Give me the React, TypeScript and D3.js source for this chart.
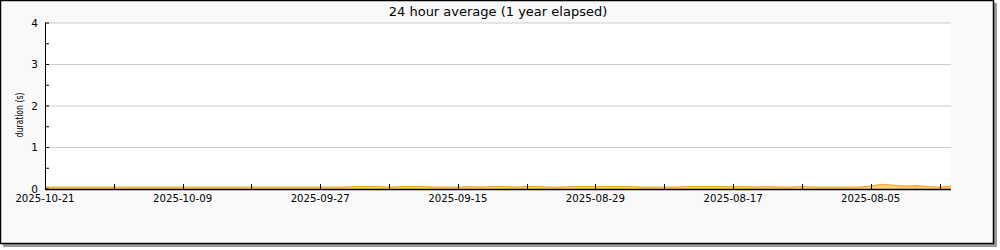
import React from "react";
import * as d3 from "d3";

const title = "24 hour average (1 year elapsed)";
const yTitle = "duration (s)";
const yTicks = [0, 1, 2, 3, 4];
const yMinorTicks = [0.5, 1.5, 2.5, 3.5];
const xTickIdx = [0, 6, 12, 18, 24, 30, 36, 42, 48, 54, 60, 66, 72, 78];
const xLabelIdx = [0, 12, 24, 36, 48, 60, 72];
const xLabels = ["2025-10-21", "2025-10-09", "2025-09-27", "2025-09-15", "2025-08-29", "2025-08-17", "2025-08-05"];
// daily averages, index 0 = most recent day (left)
const values = [
  0.045, 0.045, 0.045, 0.045, 0.045, 0.045, 0.045, 0.045, 0.045, 0.045,
  0.045, 0.045, 0.045, 0.045, 0.045, 0.045, 0.045, 0.045, 0.045, 0.045,
  0.045, 0.045, 0.045, 0.045, 0.045, 0.045, 0.045, 0.06, 0.06, 0.06,
  0.045, 0.06, 0.06, 0.06, 0.045, 0.045, 0.045, 0.06, 0.045, 0.06,
  0.06, 0.045, 0.06, 0.06, 0.045, 0.045, 0.06, 0.06, 0.06, 0.06,
  0.06, 0.06, 0.045, 0.045, 0.045, 0.045, 0.06, 0.06, 0.06, 0.06,
  0.05, 0.06, 0.045, 0.06, 0.045, 0.045, 0.06, 0.045, 0.045, 0.045,
  0.045, 0.045, 0.07, 0.11, 0.09, 0.07, 0.08, 0.06, 0.045, 0.07,
];

export default function App() {
  const W = 1000, H = 250;
  const L = 45, R = 951, T = 23, B = 189;
  const x = d3.scaleLinear().domain([0, values.length - 1]).range([L, R]);
  const y = d3.scaleLinear().domain([0, 4]).range([B, T]);
  const area = d3.area<number>().x((_, i) => x(i)).y0(y(0)).y1((d) => y(d));
  const line = d3.line<number>().x((_, i) => x(i)).y((d) => y(d));
  const font = "DejaVu Sans, sans-serif";
  return (
    <svg width={W} height={H} style={{ position: "absolute", left: 0, top: 0 }} fontFamily={font}>
      <rect x={3} y={3} width={994} height={244} fill="#999" />
      <rect x={0.5} y={0.5} width={993} height={243} fill="#f9f9f9" stroke="#000" strokeWidth={1.5} />
      <rect x={L} y={T} width={R - L} height={B - T} fill="#fff" />
      {yTicks.filter((t) => t > 0).map((t) => (
        <line key={"g" + t} x1={L} x2={R} y1={y(t)} y2={y(t)} stroke="#ccc" strokeWidth={1} />
      ))}
      <path d={area(values) || ""} fill="#ffd27a" />
      <path d={line(values) || ""} fill="none" stroke="#f5a623" strokeWidth={1.2} />
      {yTicks.map((t) => (
        <line key={"yt" + t} x1={L} x2={L + 4} y1={y(t)} y2={y(t)} stroke="#000" />
      ))}
      {yMinorTicks.map((t) => (
        <line key={"ym" + t} x1={L} x2={L + 4} y1={y(t)} y2={y(t)} stroke="#000" />
      ))}
      {xTickIdx.map((i) => (
        <line key={"xt" + i} x1={Math.round(x(i)) + 0.5} x2={Math.round(x(i)) + 0.5} y1={B} y2={B - 5} stroke="#000" />
      ))}
      <line x1={L + 0.5} x2={L + 0.5} y1={T} y2={B} stroke="#000" />
      <line x1={L} x2={R} y1={B + 0.5} y2={B + 0.5} stroke="#000" strokeWidth={1.5} />
      {yTicks.map((t) => (
        <text key={"yl" + t} x={38} y={y(t)} dy="0.36em" textAnchor="end" fontSize={10.5} fill="#000">{t}</text>
      ))}
      {xLabelIdx.map((i, k) => (
        <text key={"xl" + i} x={x(i)} y={202} textAnchor="middle" fontSize={10.2} fill="#000">{xLabels[k]}</text>
      ))}
      <text x={(L + R) / 2} y={16} textAnchor="middle" fontSize={13} fill="#000">{title}</text>
      <text transform={`translate(23,115) rotate(-90)`} textAnchor="middle" fontSize={10} textLength={45} lengthAdjust="spacingAndGlyphs" fill="#000">{yTitle}</text>
    </svg>
  );
}
